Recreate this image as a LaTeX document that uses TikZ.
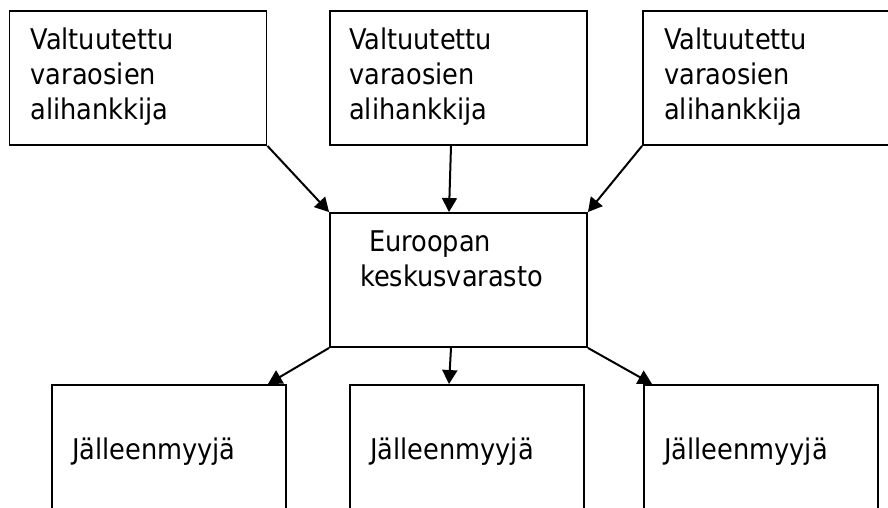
\documentclass[tikz,border=0pt]{standalone}
\usepackage{fontspec}
\setmainfont{DejaVu Sans Condensed}
\usetikzlibrary{arrows.meta}
\begin{document}
\begin{tikzpicture}[x=1pt,y=1pt,
  box/.style={draw, line width=1.9pt, rectangle, inner sep=0pt,
    minimum height=134pt},
  wide/.style={box, minimum width=257pt},
  narrow/.style={box, minimum width=234pt},
  lbl/.style={anchor=base west, inner sep=0pt, align=left, text width=230pt,
    font={\fontsize{28.5}{35}\selectfont}},
  flow/.style={line width=2pt, -{Triangle[length=14pt,width=15pt]}}]
\useasboundingbox (0,0) rectangle (888,508);

% suppliers
\node[wide] (tl) at (138,430) {};
\node[wide] (tm) at (458.5,430) {};
\node[wide] (tr) at (771.5,430) {};
% central warehouse
\node[wide] (mid) at (458.5,228) {};
% resellers
\node[narrow] (bl) at (169,56) {};
\node[narrow] (bm) at (467,56) {};
\node[narrow] (br) at (761,56) {};

\node[lbl] (tlt) at ([xshift=22pt,yshift=-39pt]tl.north west) {Valtuutettu\\varaosien\\alihankkija};
\node[lbl] (tmt) at ([xshift=20pt,yshift=-39pt]tm.north west) {Valtuutettu\\varaosien\\alihankkija};
\node[lbl] (trt) at ([xshift=22pt,yshift=-39pt]tr.north west) {Valtuutettu\\varaosien\\alihankkija};

\node[lbl] (midt1) at ([xshift=40pt,yshift=-39pt]mid.north west) {Euroopan};
\node[lbl] (midt2) at ([xshift=31pt,yshift=-74pt]mid.north west) {keskusvarasto};

\node[lbl] (blt) at ([xshift=21pt,yshift=-75pt]bl.north west) {Jälleenmyyjä};
\node[lbl] (bmt) at ([xshift=21pt,yshift=-75pt]bm.north west) {Jälleenmyyjä};
\node[lbl] (brt) at ([xshift=21pt,yshift=-75pt]br.north west) {Jälleenmyyjä};

% supply lines into the warehouse
\draw[flow] (tl.south east) -- (mid.north west);
\draw[flow] ([xshift=-7.5pt]tm.south) -- ([xshift=-9.5pt]mid.north);
\draw[flow] (tr.south west) -- (mid.north east);
% distribution to resellers
\draw[flow] (mid.south west) -- ([xshift=-19pt]bl.north east);
\draw[flow] ([xshift=-7.5pt]mid.south) -- ([xshift=-18pt]bm.north);
\draw[flow] (mid.south east) -- ([xshift=9pt]br.north west);
\end{tikzpicture}
\end{document}
